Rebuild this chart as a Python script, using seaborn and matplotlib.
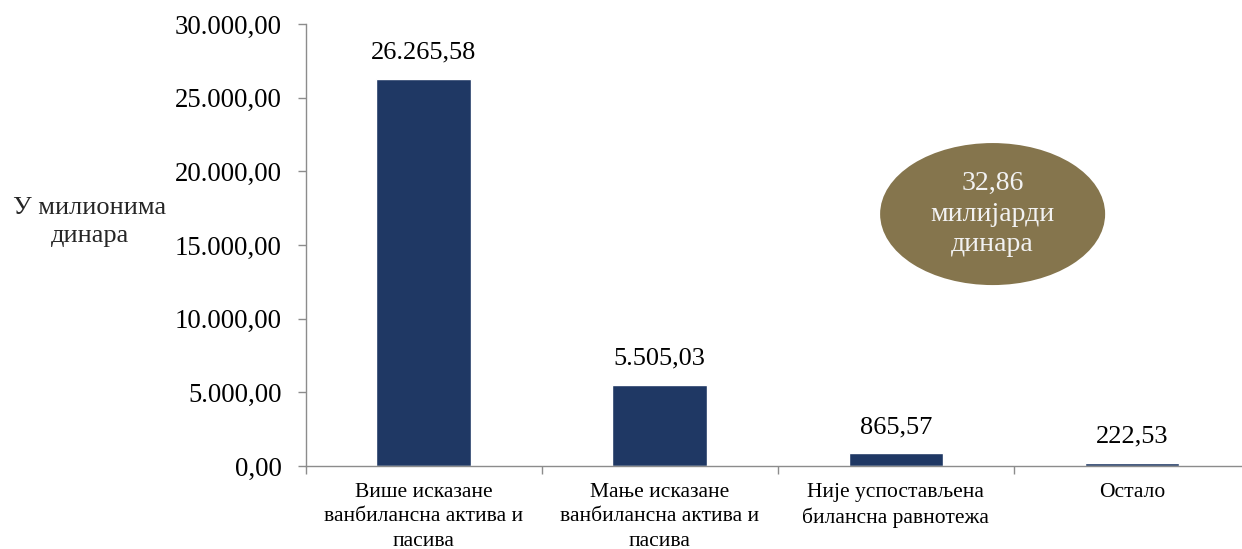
import matplotlib
matplotlib.use("Agg")
import matplotlib.pyplot as plt
from matplotlib.patches import Ellipse
from matplotlib.ticker import FuncFormatter, FixedLocator
import seaborn as sns
import pandas as pd

categories = [
    "Више исказане\nванбилансна актива и\nпасива",
    "Мање исказане\nванбилансна актива и\nпасива",
    "Није успостављена\nбилансна равнотежа",
    "Остало",
]
values = [26265.58, 5505.03, 865.57, 222.53]
total_label = "32,86\nмилијарди\nдинара"
y_label = "У милионима\nдинара"

BAR = "#1F3864"
AXIS = "#8C8C8C"
OVAL = "#85754D"

sns.set_theme(style="white")
plt.rcParams["font.family"] = ["Liberation Serif", "DejaVu Serif"]


def fmt_num(v, decimals=2):
    s = f"{v:,.{decimals}f}"
    return s.replace(",", "X").replace(".", ",").replace("X", ".")


df = pd.DataFrame({"category": categories, "value": values})

fig = plt.figure(figsize=(12.42, 5.49), dpi=100)
ax = fig.add_axes([305.5 / 1242, 83 / 549, 944.5 / 1242, 442 / 549])

sns.barplot(data=df, x="category", y="value", color=BAR, width=0.40,
            saturation=1, ax=ax)

ax.set_xlim(-0.5, 3.5)
ax.set_ylim(0, 30000)
ax.set_yticks(range(0, 30001, 5000))
ax.yaxis.set_major_formatter(FuncFormatter(lambda v, p: fmt_num(v)))

for i, v in enumerate(values):
    ax.annotate(fmt_num(v), (i, v), xytext=(0, 11), textcoords="offset points",
                ha="center", va="bottom", fontsize=19, color="black")

for s in ("top", "right"):
    ax.spines[s].set_visible(False)
for s in ("left", "bottom"):
    ax.spines[s].set_color(AXIS)
    ax.spines[s].set_linewidth(1.0)

ax.tick_params(axis="y", which="major", left=True, length=6, width=1,
               color=AXIS, pad=11, labelsize=19.3, labelcolor="black")
ax.tick_params(axis="x", which="major", bottom=False, length=0, pad=12,
               labelsize=15.5, labelcolor="black")
ax.xaxis.set_minor_locator(FixedLocator([-0.5, 0.5, 1.5, 2.5, 3.5]))
ax.tick_params(axis="x", which="minor", bottom=True, length=6, width=1,
               color=AXIS)
for lbl in ax.get_xticklabels():
    lbl.set_multialignment("center")
    lbl.set_linespacing(1.4)

ax.set_xlabel("")
ax.set_ylabel("")
ax.grid(False)

oval = Ellipse((2.41, 17100), width=0.953, height=9640, facecolor=OVAL,
               edgecolor="none", zorder=3)
ax.add_patch(oval)
ax.text(2.41, 17100, total_label, ha="center", va="center", fontsize=20,
        color="#F2F2F2", linespacing=1.3, zorder=4)

fig.text(90 / 1242, 1 - 222 / 549, y_label, ha="center", va="center",
         fontsize=19, multialignment="center", linespacing=1.3)

fig.savefig("out.png", dpi=100, facecolor="white")
